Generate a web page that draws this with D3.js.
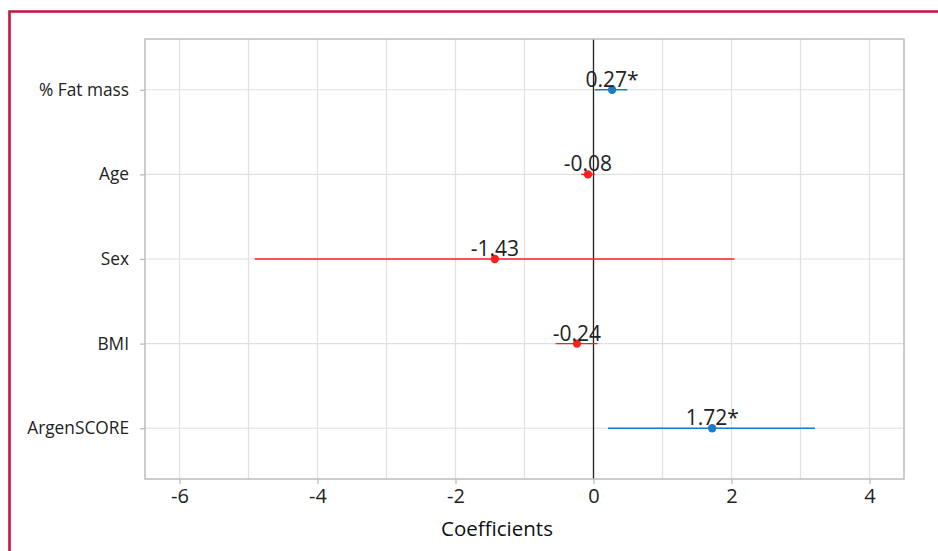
<!DOCTYPE html>
<html><head><meta charset="utf-8">
<script src="https://cdn.jsdelivr.net/npm/d3@7"></script>
<style>body{margin:0;background:#fff;}svg{display:block;}</style>
</head><body>
<svg id="c" width="938" height="551"></svg>
<script>
const categories = ["% Fat mass", "Age", "Sex", "BMI", "ArgenSCORE"];
const estimates = [0.27, -0.08, -1.43, -0.24, 1.72];
const lower = [0.02, -0.18, -4.91, -0.55, 0.21];
const upper = [0.49, 0.02, 2.04, 0.06, 3.21];
const labels = ["0.27*", "-0.08", "-1.43", "-0.24", "1.72*"];
const significant = [true, false, false, false, true];
const xTicks = [-6, -4, -2, 0, 2, 4];
const xMinor = [-5, -3, -1, 1, 3];

const svg = d3.select("#c");
const W = 938, H = 551;
const m = {l: 145, r: 904, t: 39, b: 479};
const font = "'Open Sans', sans-serif";

// outer frame
svg.append("path").attr("d", `M9.5,${H} V11.5 H${W}`).attr("fill", "none")
  .attr("stroke", "#c8123f").attr("stroke-width", 2.6);

const x = d3.scaleLinear().domain([-6.5, 4.5]).range([m.l, m.r]);
const y = d3.scalePoint().domain(categories).range([m.t, m.b]).padding(0.6);

const blue = "#1a7dc4", red = "#ff2020";
const col = i => significant[i] ? blue : red;

// gridlines
const g = svg.append("g");
g.selectAll(".vx").data(xTicks.concat(xMinor)).join("line")
  .attr("x1", d => x(d)).attr("x2", d => x(d)).attr("y1", m.t).attr("y2", m.b)
  .attr("stroke", "#e0e0e0").attr("stroke-width", 1.2);
g.selectAll(".hy").data(categories).join("line")
  .attr("x1", m.l).attr("x2", m.r).attr("y1", d => y(d)).attr("y2", d => y(d))
  .attr("stroke", "#e0e0e0").attr("stroke-width", 1.2);

// zero line
svg.append("line").attr("x1", x(0)).attr("x2", x(0)).attr("y1", m.t).attr("y2", m.b)
  .attr("stroke", "#222").attr("stroke-width", 1.3);

// panel border
svg.append("rect").attr("x", m.l).attr("y", m.t).attr("width", m.r - m.l).attr("height", m.b - m.t)
  .attr("fill", "none").attr("stroke", "#bdbdbd").attr("stroke-width", 1.5);

// axes
const xa = svg.append("g").attr("transform", `translate(0,${m.b})`)
  .call(d3.axisBottom(x).tickValues(xTicks).tickSize(5).tickPadding(5).tickFormat(d => String(d)));
xa.select(".domain").remove();
xa.selectAll("line").attr("stroke", "#bdbdbd").attr("stroke-width", 1.3);
xa.selectAll("text").attr("fill", "#222").attr("font-family", font).attr("font-size", 20);

const ya = svg.append("g").attr("transform", `translate(${m.l},0)`)
  .call(d3.axisLeft(y).tickSize(5).tickPadding(11));
ya.select(".domain").remove();
ya.selectAll("line").attr("stroke", "#bdbdbd").attr("stroke-width", 1.3);
ya.selectAll("text").attr("fill", "#222").attr("font-family", font).attr("font-size", 17.3);

svg.append("text").attr("x", 497).attr("y", 536).attr("text-anchor", "middle")
  .attr("font-family", font).attr("font-size", 20.5).attr("fill", "#111")
  .text("Coefficients");

// CI lines
svg.selectAll(".ci").data(categories).join("line")
  .attr("x1", (d, i) => x(lower[i])).attr("x2", (d, i) => x(upper[i]))
  .attr("y1", d => y(d)).attr("y2", d => y(d))
  .attr("stroke", (d, i) => col(i)).attr("stroke-width", 1.4);

svg.selectAll(".pt").data(categories).join("circle")
  .attr("cx", (d, i) => x(estimates[i])).attr("cy", d => y(d)).attr("r", 4.2)
  .attr("fill", (d, i) => col(i));

svg.selectAll(".lb").data(categories).join("text")
  .attr("x", (d, i) => x(estimates[i])).attr("y", d => y(d) - 3)
  .attr("text-anchor", "middle").attr("font-family", font)
  .attr("font-size", 21).attr("fill", "#222")
  .text((d, i) => labels[i]);
</script>
</body></html>
